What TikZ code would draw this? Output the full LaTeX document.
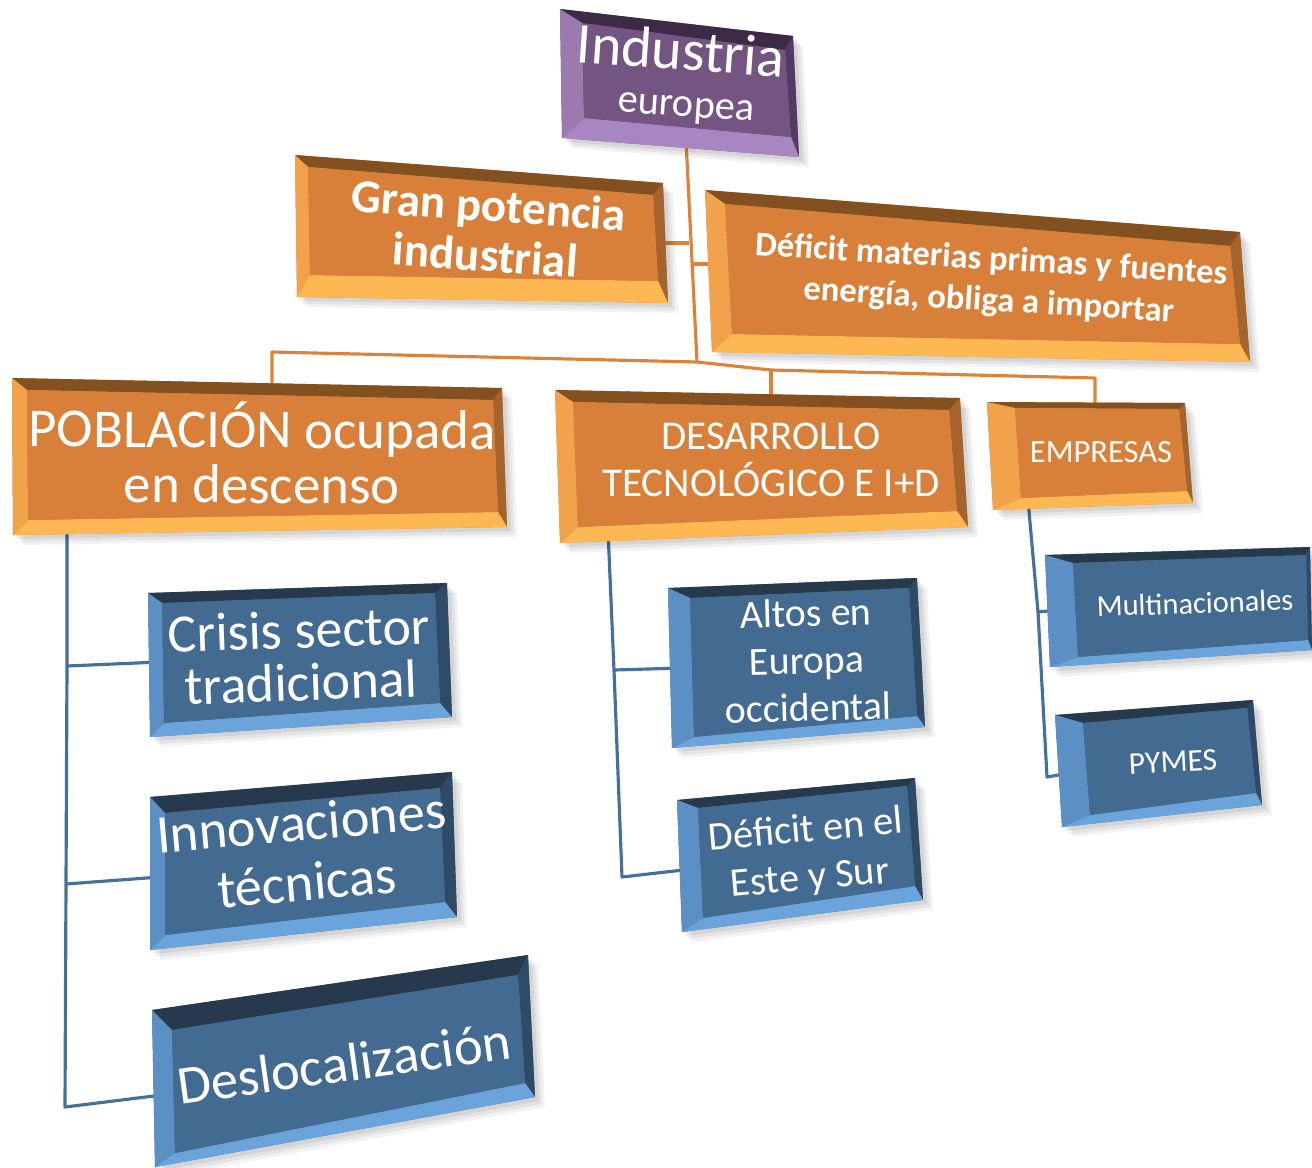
\documentclass[tikz,border=0pt]{standalone}
\usepackage{fontspec}
\setmainfont{Carlito}
\usetikzlibrary{calc}

% palettes: face, top, right, bottom, left bevel
\definecolor{orFace}{HTML}{D8803A}
\definecolor{orTop}{HTML}{83501F}
\definecolor{orRight}{HTML}{A5642B}
\definecolor{orBottom}{HTML}{FDB753}
\definecolor{orLeft}{HTML}{F2A24A}
\definecolor{blFace}{HTML}{436B92}
\definecolor{blTop}{HTML}{26394D}
\definecolor{blRight}{HTML}{2F4A66}
\definecolor{blBottom}{HTML}{6AA4DB}
\definecolor{blLeft}{HTML}{5C90C5}
\definecolor{puFace}{HTML}{745480}
\definecolor{puTop}{HTML}{3D2A46}
\definecolor{puRight}{HTML}{523A62}
\definecolor{puBottom}{HTML}{A886C2}
\definecolor{puLeft}{HTML}{9C7AAE}
\definecolor{orLine}{HTML}{DB8339}
\definecolor{blLine}{HTML}{44709A}

\newcommand\setfs[2]{\fontsize{#1}{#2}\selectfont}
% four outer corners of a box
\newcommand\corners[5]{%
  \coordinate (#1-tl) at (#2); \coordinate (#1-tr) at (#3);
  \coordinate (#1-br) at (#4); \coordinate (#1-bl) at (#5);}
% bevelled box: name, left/top/right/bottom bevel widths, palette
\newcommand\bevbox[6]{%
  \coordinate (#1-itl) at ($(#1-tl)+(#2,#3)$);
  \coordinate (#1-itr) at ($(#1-tr)+(-#4,#3)$);
  \coordinate (#1-ibr) at ($(#1-br)+(-#4,-#5)$);
  \coordinate (#1-ibl) at ($(#1-bl)+(#2,-#5)$);
  \foreach \s/\o in {4/.07,7/.06,10/.05}{
    \fill[black,opacity=\o] ([shift={(\s,\s)}]#1-tl) -- ([shift={(\s,\s)}]#1-tr)
      -- ([shift={(\s,\s)}]#1-br) -- ([shift={(\s,\s)}]#1-bl) -- cycle;}
  \fill[#6Face] (#1-tl) -- (#1-tr) -- (#1-br) -- (#1-bl) -- cycle;
  \fill[#6Top] (#1-tl) -- (#1-tr) -- (#1-itr) -- (#1-itl) -- cycle;
  \fill[#6Right] (#1-tr) -- (#1-br) -- (#1-ibr) -- (#1-itr) -- cycle;
  \fill[#6Bottom] (#1-br) -- (#1-bl) -- (#1-ibl) -- (#1-ibr) -- cycle;
  \fill[#6Left] (#1-bl) -- (#1-tl) -- (#1-itl) -- (#1-ibl) -- cycle;
  \fill[#6Face] (#1-itl) -- (#1-itr) -- (#1-ibr) -- (#1-ibl) -- cycle;}

\tikzset{
  orline/.style={draw=orLine, line width=1.8pt, line join=round},
  blline/.style={draw=blLine, line width=1.8pt, line join=round},
  label/.style={text=white, align=center, inner sep=0pt},
}

\begin{document}
\begin{tikzpicture}[x=0.02cm, y=-0.02cm]
\useasboundingbox (0,0) rectangle (1312,1167);

% box outlines
\corners{ind}{560,9}{793,36}{799,157}{562,138}
\corners{gp}{295,155}{663,183}{668,303}{297,297}
\corners{dm}{705,190}{1240,232}{1250,362}{712,352}
\corners{pob}{12,378}{502,388}{507,527}{13,535}
\corners{des}{555,390}{960,398}{968,527}{560,543}
\corners{emp}{987,402}{1185,403}{1193,503}{993,510}
\corners{mul}{1045,555}{1310,547}{1312,650}{1050,667}
\corners{pym}{1055,715}{1253,700}{1262,805}{1062,827}
\corners{cr}{148,593}{447,583}{452,717}{150,737}
\corners{inn}{150,797}{452,772}{457,917}{150,950}
\corners{dsl}{152,1010}{528,955}{535,1097}{155,1167}
\corners{alt}{668,588}{917,578}{925,727}{672,748}
\corners{dee}{677,800}{915,778}{923,900}{682,932}

% connector points
\coordinate (ind-b) at (686,140);
\coordinate (trk-a) at (689,243);
\coordinate (trk-b) at (692,264);
\coordinate (gp-r) at (660,243);
\coordinate (dm-l) at (716,264);
\coordinate (bar-l) at (272,352);
\coordinate (bar-m) at (697,362);
\coordinate (bar-c) at (771,370);
\coordinate (bar-r) at (1095,378);
\coordinate (pob-t) at (272,392);
\coordinate (des-t) at (771,402);
\coordinate (emp-t) at (1095,412);

\coordinate (pob-b) at (67,525);
\coordinate (pob-j1) at (67,666);
\coordinate (pob-j2) at (66,884);
\coordinate (pob-j3) at (65,1107);
\coordinate (cr-l) at (160,662);
\coordinate (inn-l) at (160,877);
\coordinate (dsl-l) at (162,1095);
\coordinate (des-b) at (608,530);
\coordinate (des-j1) at (614,670);
\coordinate (des-j2) at (622,877);
\coordinate (alt-l) at (682,668);
\coordinate (dee-l) at (692,869);
\coordinate (emp-b) at (1028,500);
\coordinate (emp-j1) at (1038,612);
\coordinate (emp-j2) at (1047,777);
\coordinate (mul-l) at (1058,610);
\coordinate (pym-l) at (1070,773);

% orange tree
\draw[orline] (ind-b) -- (bar-m);
\draw[orline] (gp-r) -- (trk-a);
\draw[orline] (trk-b) -- (dm-l);
\draw[orline] (pob-t) -- (bar-l) -- (bar-m) -- (bar-c) -- (bar-r) -- (emp-t);
\draw[orline] (bar-c) -- (des-t);

% blue branches
\draw[blline] (pob-b) -- (pob-j1) -- (pob-j2) -- (pob-j3) -- (dsl-l);
\draw[blline] (pob-j1) -- (cr-l);
\draw[blline] (pob-j2) -- (inn-l);
\draw[blline] (des-b) -- (des-j1) -- (des-j2) -- (dee-l);
\draw[blline] (des-j1) -- (alt-l);
\draw[blline] (emp-b) -- (emp-j1) -- (emp-j2) -- (pym-l);
\draw[blline] (emp-j1) -- (mul-l);

% boxes
\bevbox{ind}{22}{14}{8}{20}{pu}
\bevbox{gp}{13}{12}{10}{22}{or}
\bevbox{dm}{20}{14}{10}{18}{or}
\bevbox{pob}{15}{12}{9}{15}{or}
\bevbox{des}{18}{12}{11}{16}{or}
\bevbox{emp}{28}{6}{6}{12}{or}
\bevbox{mul}{28}{8}{4}{10}{bl}
\bevbox{pym}{28}{8}{6}{12}{bl}
\bevbox{cr}{14}{10}{12}{14}{bl}
\bevbox{inn}{15}{16}{12}{15}{bl}
\bevbox{dsl}{20}{20}{10}{14}{bl}
\bevbox{alt}{22}{10}{8}{11}{bl}
\bevbox{dee}{21}{8}{8}{14}{bl}

% labels
\node[label, rotate=-4, font=\setfs{33}{33}] (ind-t1) at (681,50) {Industria};
\node[label, rotate=-4, font=\setfs{23}{23}] (ind-t2) at (686,110) {europea};
\node[label, rotate=-4, font=\bfseries\setfs{26.8}{28.4}] (gp-t) at (487,230) {Gran potencia\\industrial};
\node[label, rotate=-3.5, font=\bfseries\setfs{19.7}{23.5}] (dm-t) at (990,281) {Déficit materias primas y fuentes\\energía, obliga a importar};
\node[label, rotate=-0.3, font=\setfs{31.2}{31.5}] (pob-t2) at (262,453) {POBLACIÓN ocupada\\en descenso};
\node[label, font=\setfs{23.3}{27}] (des-t2) at (771,460) {DESARROLLO\\TECNOLÓGICO E I+D};
\node[label, font=\setfs{18.5}{20}] (emp-t2) at (1101,452) {EMPRESAS};
\node[label, rotate=2, font=\setfs{17.3}{20}] (mul-t) at (1195,603) {Multinacionales};
\node[label, rotate=3, font=\setfs{18}{20}] (pym-t) at (1173,762) {PYMES};
\node[label, rotate=2, font=\setfs{30.7}{30}] (cr-t) at (300,656) {Crisis sector\\tradicional};
\node[label, rotate=5, font=\setfs{31}{34}] (inn-t) at (304,852) {Innovaciones\\técnicas};
\node[label, rotate=8, font=\setfs{31}{31}] (dsl-t) at (344,1063) {Deslocalización};
\node[label, rotate=1.5, font=\setfs{22.7}{27}] (alt-t) at (807,660) {Altos en\\Europa\\occidental};
\node[label, rotate=5, font=\setfs{23}{27.5}] (dee-t) at (808,855) {Déficit en el\\Este y Sur};
\end{tikzpicture}
\end{document}
